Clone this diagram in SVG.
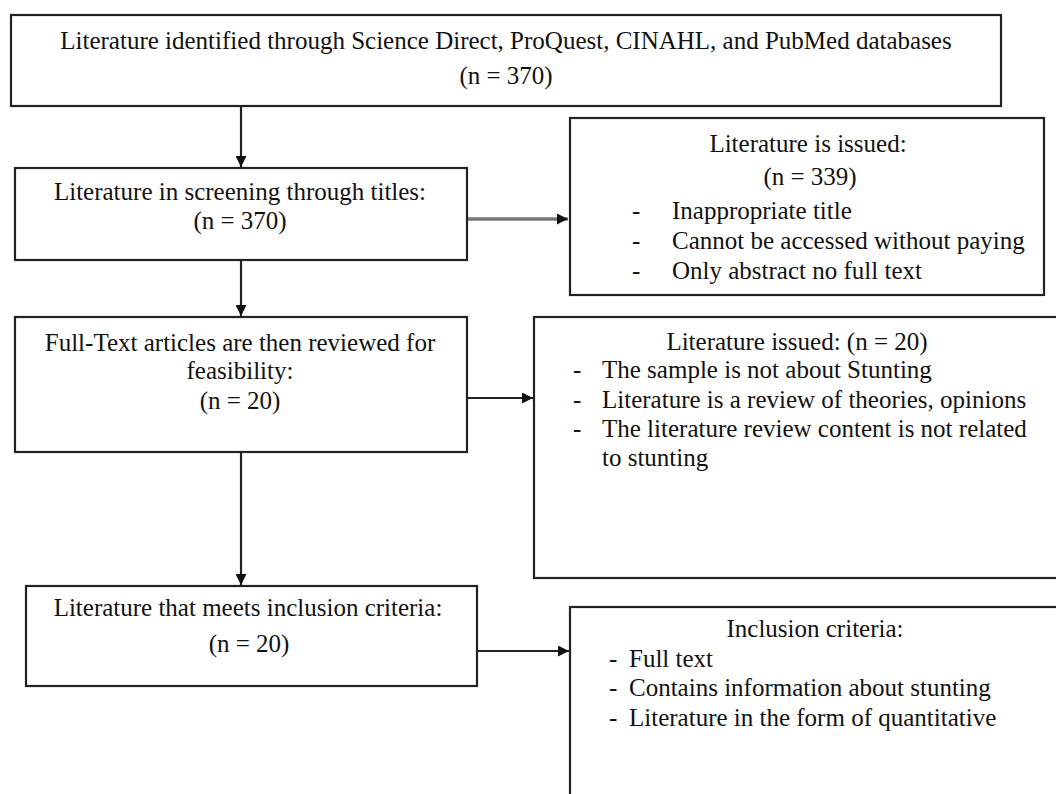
<svg xmlns="http://www.w3.org/2000/svg" width="1056" height="794" viewBox="0 0 1056 794">
<style>
.box{fill:#fff;stroke:#222;stroke-width:2.2}
text{font-family:"Liberation Serif","Times New Roman",serif;font-size:25px;fill:#111}
.c{text-anchor:middle}
.con{stroke:#222;stroke-width:2.2;fill:none}
.gray{stroke:#777;stroke-width:3.5;fill:none}
</style>
<defs>
<marker id="ah" viewBox="0 0 10 10" refX="10" refY="5" markerWidth="11" markerHeight="11" markerUnits="userSpaceOnUse" orient="auto">
<path d="M0,0 L10,5 L0,10 z" fill="#111"/>
</marker>
</defs>
<rect width="1056" height="794" fill="#fff"/>
<g id="connectors">
<line class="con" x1="241" y1="106" x2="241" y2="167" marker-end="url(#ah)"/>
<line class="con" x1="241" y1="260" x2="241" y2="316" marker-end="url(#ah)"/>
<line class="con" x1="241" y1="452" x2="241" y2="585" marker-end="url(#ah)"/>
<line class="gray" x1="467" y1="219" x2="568" y2="219" marker-end="url(#ah)"/>
<line class="con" x1="467" y1="398" x2="533" y2="398" marker-end="url(#ah)"/>
<line class="con" x1="477" y1="651" x2="569" y2="651" marker-end="url(#ah)"/>
</g>
<g id="n1">
<rect class="box" x="11" y="15" width="990" height="91"/>
<text class="c" x="506" y="49">Literature identified through Science Direct, ProQuest, CINAHL, and PubMed databases</text>
<text class="c" x="506" y="84">(n = 370)</text>
</g>
<g id="n2">
<rect class="box" x="15" y="168" width="452" height="92"/>
<text class="c" x="240" y="200">Literature in screening through titles:</text>
<text class="c" x="240" y="229">(n = 370)</text>
</g>
<g id="n3">
<rect class="box" x="570" y="118" width="474" height="177"/>
<text class="c" x="808" y="152">Literature is issued:</text>
<text class="c" x="810" y="185">(n = 339)</text>
<text x="632" y="219">-</text><text x="672" y="219">Inappropriate title</text>
<text x="632" y="249">-</text><text x="672" y="249">Cannot be accessed without paying</text>
<text x="632" y="279">-</text><text x="672" y="279">Only abstract no full text</text>
</g>
<g id="n4">
<rect class="box" x="15" y="317" width="452" height="135"/>
<text class="c" x="240" y="351">Full-Text articles are then reviewed for</text>
<text class="c" x="240" y="379">feasibility:</text>
<text class="c" x="240" y="409">(n = 20)</text>
</g>
<g id="n5">
<rect class="box" x="534" y="317" width="540" height="261"/>
<text class="c" x="797" y="350">Literature issued: (n = 20)</text>
<text x="573" y="378">-</text><text x="602" y="378">The sample is not about Stunting</text>
<text x="573" y="408">-</text><text x="602" y="408">Literature is a review of theories, opinions</text>
<text x="573" y="437">-</text><text x="602" y="437">The literature review content is not related</text>
<text x="602" y="466">to stunting</text>
</g>
<g id="n6">
<rect class="box" x="26" y="586" width="451" height="100"/>
<text class="c" x="248" y="616">Literature that meets inclusion criteria:</text>
<text class="c" x="249" y="652">(n = 20)</text>
</g>
<g id="n7">
<rect class="box" x="570" y="607" width="500" height="200"/>
<text class="c" x="815" y="637">Inclusion criteria:</text>
<text x="609" y="667">-</text><text x="629" y="667">Full text</text>
<text x="609" y="696">-</text><text x="629" y="696">Contains information about stunting</text>
<text x="609" y="726">-</text><text x="629" y="726">Literature in the form of quantitative</text>
</g>
</svg>
